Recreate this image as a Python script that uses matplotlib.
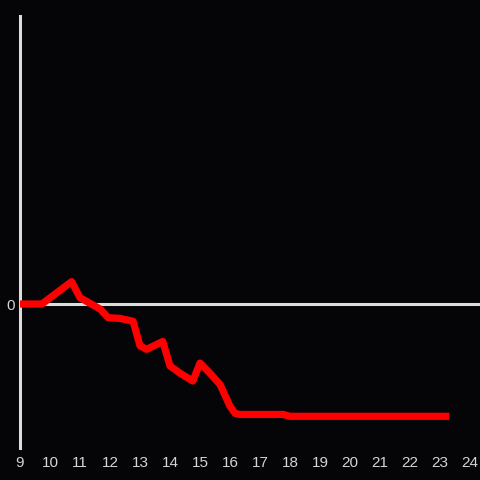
import matplotlib
matplotlib.use("Agg")
import matplotlib.pyplot as plt

hours = [9.0, 9.73, 10.72, 11.0, 11.67, 11.94, 12.33, 12.77, 13.0, 13.22, 13.76,
         14.0, 14.33, 14.76, 15.0, 15.33, 15.67, 16.0, 16.17, 16.33, 17.78, 18.0, 23.31]
values = [0.0, 0.0, 0.155, 0.044, -0.035, -0.095, -0.10, -0.12, -0.29, -0.315, -0.26,
          -0.43, -0.48, -0.535, -0.41, -0.48, -0.56, -0.71, -0.76, -0.767, -0.767, -0.78, -0.78]
xticks = list(range(9, 25))
yticks = [0]

bg = '#050407'
axis_col = '#dcdcdc'
text_col = '#d4d4d4'

fig = plt.figure(figsize=(4.8, 4.8), dpi=100, facecolor=bg)
ax = fig.add_axes([20/480, 32/480, 460/480, 432/480], facecolor=bg)
ax.set_xlim(9, 9 + 460/30)
ax.set_ylim(-1.0, 2.0)

for s in ['top', 'right', 'bottom']:
    ax.spines[s].set_visible(False)
ax.spines['left'].set_color(axis_col)
ax.spines['left'].set_linewidth(2.2)
ax.axhline(0, color=axis_col, lw=2.2, zorder=1)

ax.plot(hours, values, color='#ff0000', lw=5.2, solid_joinstyle='round',
        solid_capstyle='butt', zorder=3, clip_on=False)

ax.set_xticks(xticks)
ax.set_xticklabels([str(t) for t in xticks])
ax.set_yticks(yticks)
ax.set_yticklabels(['0'])
ax.tick_params(length=0, colors=text_col, labelsize=11)
ax.tick_params(axis='x', pad=5.5)
ax.tick_params(axis='y', pad=4)
for lab in ax.get_xticklabels() + ax.get_yticklabels():
    lab.set_fontfamily('Liberation Sans')
    lab.set_color(text_col)

fig.savefig('out.png', dpi=100, facecolor=bg)
